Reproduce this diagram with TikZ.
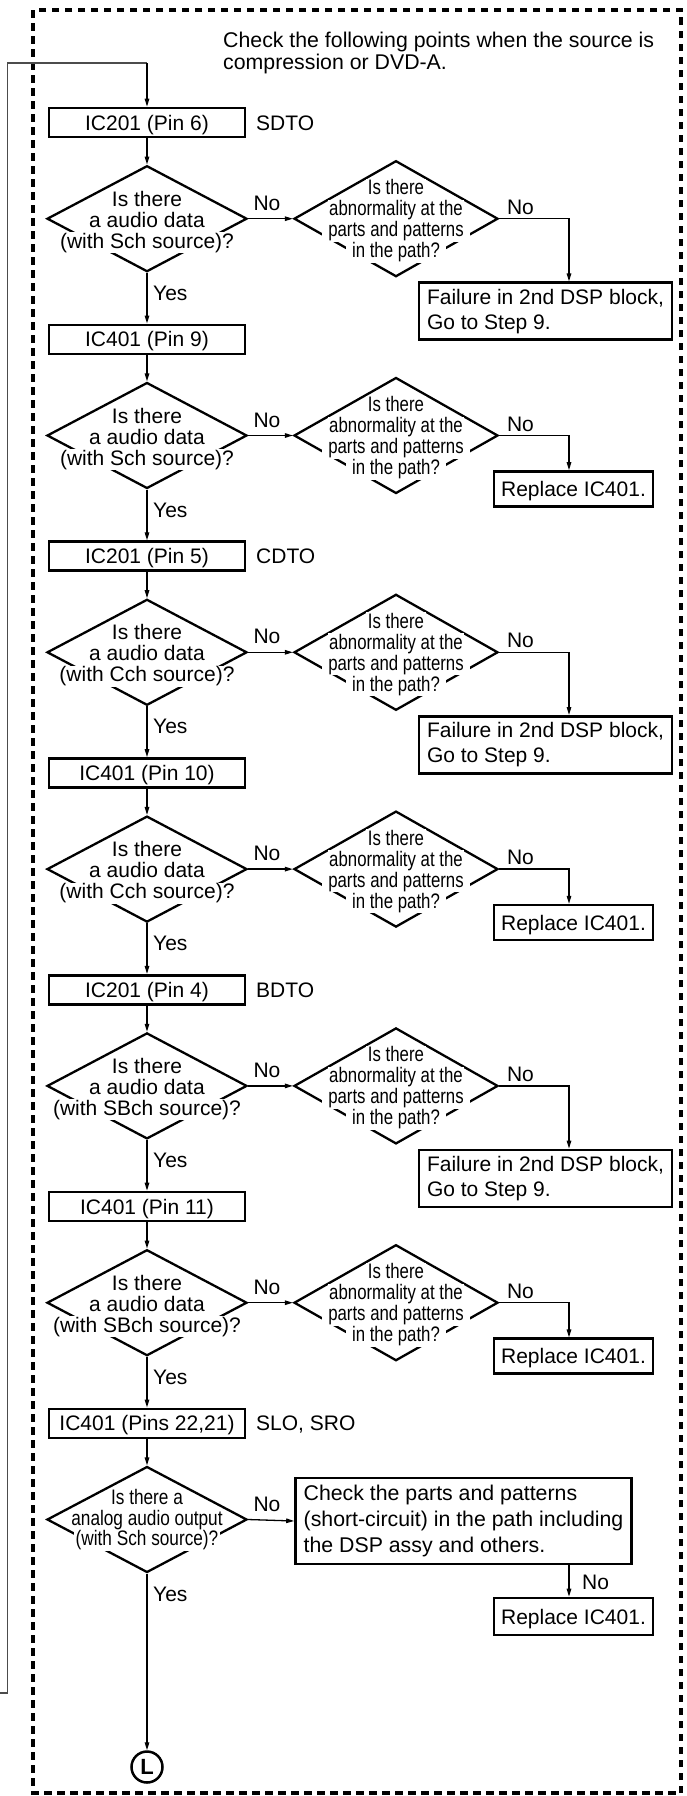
\documentclass[tikz,border=0pt]{standalone}
\usepackage{fontspec}
\setmainfont{Liberation Sans}
\usepackage{graphicx}
\usetikzlibrary{shapes.geometric,arrows.meta}
\newcommand{\fnt}{\fontsize{21}{25}\selectfont}
\newcommand{\cond}[1]{\scalebox{0.80}[1]{#1}}
\newcommand{\condb}[1]{\scalebox{0.82}[1]{#1}}
\begin{document}
\begin{tikzpicture}[x=1pt,y=-1pt,
  every node/.style={font=\fnt, inner sep=0pt},
  pbox/.style={draw, line width=2.6pt, text height=15pt, text depth=0pt},
  mbox/.style={draw, line width=2.6pt, align=left},
  dia/.style={draw, diamond, line width=2.3pt, minimum width=200pt, minimum height=106pt},
  rdia/.style={draw, diamond, line width=2.3pt, minimum width=204pt, minimum height=116pt},
  dtext/.style={fill=white, anchor=base, inner xsep=1.5pt, inner ysep=0.5pt, text height=15.5pt, text depth=4.5pt},
  dlow/.style={dtext, inner xsep=6pt},
  lbl/.style={anchor=base},
  lblw/.style={anchor=base west},
  arr/.style={line width=1.3pt, -{Triangle[length=8pt,width=4.5pt]}},
  loopline/.style={line width=1.3pt, draw=black!70},
  frame/.style={line width=3.2pt, dash pattern=on 7.5pt off 5.5pt}
]
\useasboundingbox (0,0) rectangle (686,1796);

% outer dashed frame
\draw[frame] (33,10) rectangle (681,1793);

% title
\node[anchor=base west, font=\fontsize{21.3}{22}\selectfont] (t1) at (223,47.5) {Check the following points when the source is};
\node[anchor=base west, font=\fontsize{21.3}{22}\selectfont] (t2) at (223,69.5) {compression or DVD-A.};

% process boxes in the main column
\foreach \i/\lab in {0/{IC201 (Pin 6)},1/{IC401 (Pin 9)},2/{IC201 (Pin 5)},3/{IC401 (Pin 10)},4/{IC201 (Pin 4)},5/{IC401 (Pin 11)},6/{IC401 (Pins 22,21)}}{
  \pgfmathsetmacro\yB{122.5+216.8*\i}
  \node[pbox, minimum width=196pt, minimum height=29pt] (box\i) at (147,\yB) {\lab};
}

% side labels
\node[lblw] (s0) at (256,130) {SDTO};
\node[lblw] (s2) at (256,563.6) {CDTO};
\node[lblw] (s4) at (256,997.2) {BDTO};
\node[lblw] (s6) at (256,1430.8) {SLO, SRO};

% left decision diamonds
\foreach \i in {0,...,6}{
  \pgfmathsetmacro\yD{218.7+216.8*\i}
  \node[dia] (dia\i) at (147,\yD) {};
}
\foreach \i/\srcname in {0/Sch,1/Sch,2/Cch,3/Cch,4/SBch,5/SBch}{
  \pgfmathsetmacro\yD{218.7+216.8*\i}
  \node[dtext] (dta\i) at (147,\yD-12.5) {Is there};
  \node[dtext] (dtb\i) at (147,\yD+8.5) {a audio data};
  \node[dtext] (dtc\i) at (147,\yD+29.5) {(with \srcname\ source)?};
}

% right decision diamonds
\foreach \i in {0,...,5}{
  \pgfmathsetmacro\yD{218.7+216.8*\i}
  \node[rdia] (rd\i) at (396,\yD) {};
  \node[dtext] (rta\i) at (396,\yD-24) {\cond{Is there}};
  \node[dtext] (rtb\i) at (396,\yD-3) {\cond{abnormality at the}};
  \node[dlow] (rtc\i) at (396,\yD+18) {\cond{parts and patterns}};
  \node[dlow] (rtd\i) at (396,\yD+39) {\cond{in the path?}};
  \draw[arr] (dia\i.east) -- (rd\i.west);
  \node[lbl] (nol\i) at (267,\yD-8.5) {No};
  \node[lbl] (nor\i) at (520.5,\yD-4.5) {No};
}

% result boxes
\foreach \i in {0,2,4}{
  \pgfmathsetmacro\yD{218.7+216.8*\i}
  \node[mbox, minimum width=253pt, minimum height=57pt] (res\i) at (545.5,\yD+92.5) {Failure in 2nd DSP block,\\Go to Step 9.};
}
\foreach \i in {1,3,5}{
  \pgfmathsetmacro\yD{218.7+216.8*\i}
  \node[pbox, minimum width=159pt, minimum height=35pt] (res\i) at (573.5,\yD+53.5) {Replace IC401.};
}
\coordinate (xr) at (569,0);
\foreach \i in {0,...,5}{
  \draw[arr] (rd\i.east) -| (res\i.north -| xr);
}

% main column connectors
\foreach \i in {0,...,6}{
  \draw[arr] (box\i.south) -- (dia\i.north);
}
\foreach \i [evaluate=\i as \j using int(\i+1)] in {0,...,5}{
  \pgfmathsetmacro\yD{218.7+216.8*\i}
  \draw[arr] (dia\i.south) -- (box\j.north);
  \node[lblw] (yes\i) at (153,\yD+81.5) {Yes};
}

% final decision
\node[dtext] (fta) at (147,1504) {\condb{Is there a}};
\node[dtext] (ftb) at (147,1525) {\condb{analog audio output}};
\node[dtext] (ftc) at (147,1545.5) {\condb{(with Sch source)?}};
\node[mbox, minimum width=336pt, minimum height=86pt, font=\fontsize{21.3}{26}\selectfont] (chk) at (463.5,1521) {Check the parts and patterns\\(short-circuit) in the path including\\the DSP assy and others.};
\node[pbox, minimum width=159pt, minimum height=37pt] (rep6) at (573.5,1616.5) {Replace IC401.};
\draw[arr] (dia6.east) -- (chk.west);
\node[lbl] (nol6) at (267,1511) {No};
\draw[arr] (chk.south -| xr) -- (rep6.north -| xr);
\node[lblw] (nod6) at (582,1589.5) {No};
\node[draw, circle, line width=2.5pt, minimum size=31pt, font=\fontsize{22}{26}\selectfont\bfseries] (Lc) at (147,1767) {L};
\draw[arr] (dia6.south) -- (Lc.north);
\node[lblw] (yes6) at (153,1601) {Yes};

% loop-back line
\coordinate (lp0) at (0,1693);
\coordinate (lp1) at (7.8,1693);
\coordinate (lp2) at (7.8,63);
\coordinate (lp3) at (147,63);
\draw[loopline] (lp0) -- (lp1) -- (lp2) -- (lp3);
\draw[arr] (lp3) -- (box0.north);
\end{tikzpicture}
\end{document}
